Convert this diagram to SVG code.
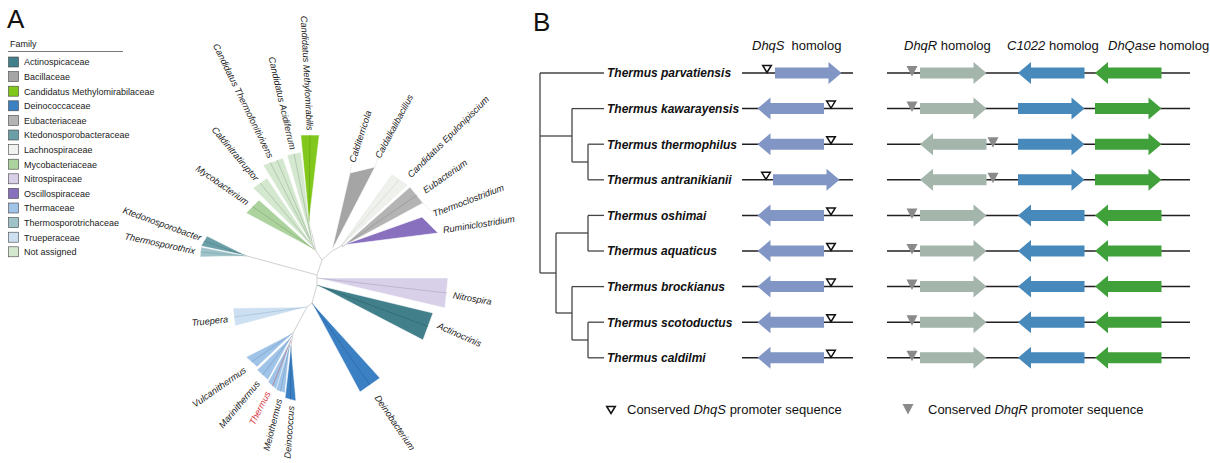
<svg xmlns="http://www.w3.org/2000/svg" xmlns:xlink="http://www.w3.org/1999/xlink" width="1210" height="463" viewBox="0 0 1210 463">
<style>
text{font-family:"Liberation Sans",Arial,sans-serif}
.pl{font-size:26px;fill:#111}
.lg{font-size:9px;fill:#222}
.sq{stroke:#444;stroke-width:0.6}
.lb{font-size:9.2px;font-style:italic;fill:#222}
.red{fill:#d7323a}
.sk{fill:none;stroke:#c4c4c4;stroke-width:0.8}
.w{stroke:#fff;stroke-width:0.6}
.cl{fill:none;stroke-width:0.5}
.ld{fill:none;stroke:#bbb;stroke-width:0.6;stroke-dasharray:1,1.5}
.sp{font-size:12px;font-weight:bold;font-style:italic;fill:#111}
.tr{fill:none;stroke:#444;stroke-width:1.3}
.gl{stroke:#231f20;stroke-width:1.5}
.hd{font-size:13px;fill:#111}
.s{fill:#8196c4}.r{fill:#a4b5ac}.c{fill:#4789bb}.q{fill:#40a03a}
.ht{fill:#fff;stroke:#111;stroke-width:1.5;stroke-linejoin:miter}
.gt{fill:#8a8a8a}
</style>
<defs>
<path id="ar" d="M0,-5.5 H53.5 V-11 L66.5,0 L53.5,11 V5.5 H0 Z"/>
<path id="al" d="M66.5,-5.5 H13 V-11 L0,0 L13,11 V5.5 H66.5 Z"/>
<path id="ht" d="M-4.3,-7.5 H4.3 L0,-0.5 Z"/>
<path id="gt" d="M-5.5,-7 H5.5 L0,3.5 Z"/>
</defs>
<rect width="1210" height="463" fill="#fff"/>

<!-- Panel A -->
<g id="panelA">
<text class="pl" x="7" y="28">A</text>
<g id="legend">
<text class="lg" x="10" y="47">Family</text>
<line x1="8" y1="51.5" x2="123" y2="51.5" stroke="#555" stroke-width="0.8"/>
<rect class="sq" x="8.5" y="57" width="10" height="10" fill="#417f8b"/><text class="lg" x="24" y="65.3">Actinospicaceae</text>
<rect class="sq" x="8.5" y="71.6" width="10" height="10" fill="#a5a5a5"/><text class="lg" x="24" y="79.9">Bacillaceae</text>
<rect class="sq" x="8.5" y="86.2" width="10" height="10" fill="#82c81c"/><text class="lg" x="24" y="94.5">Candidatus Methylomirabilaceae</text>
<rect class="sq" x="8.5" y="100.8" width="10" height="10" fill="#3c80c4"/><text class="lg" x="24" y="109.1">Deinococcaceae</text>
<rect class="sq" x="8.5" y="115.4" width="10" height="10" fill="#b4b4b4"/><text class="lg" x="24" y="123.7">Eubacteriaceae</text>
<rect class="sq" x="8.5" y="130" width="10" height="10" fill="#6b9fa8"/><text class="lg" x="24" y="138.3">Ktedonosporobacteraceae</text>
<rect class="sq" x="8.5" y="144.6" width="10" height="10" fill="#f1f3f0"/><text class="lg" x="24" y="152.9">Lachnospiraceae</text>
<rect class="sq" x="8.5" y="159.2" width="10" height="10" fill="#acd39d"/><text class="lg" x="24" y="167.5">Mycobacteriaceae</text>
<rect class="sq" x="8.5" y="173.8" width="10" height="10" fill="#d8d0e8"/><text class="lg" x="24" y="182.1">Nitrospiraceae</text>
<rect class="sq" x="8.5" y="188.4" width="10" height="10" fill="#8870bf"/><text class="lg" x="24" y="196.7">Oscillospiraceae</text>
<rect class="sq" x="8.5" y="203" width="10" height="10" fill="#9fc4e8"/><text class="lg" x="24" y="211.3">Thermaceae</text>
<rect class="sq" x="8.5" y="217.6" width="10" height="10" fill="#9fc3c8"/><text class="lg" x="24" y="225.9">Thermosporotrichaceae</text>
<rect class="sq" x="8.5" y="232.2" width="10" height="10" fill="#cde0f2"/><text class="lg" x="24" y="240.5">Trueperaceae</text>
<rect class="sq" x="8.5" y="246.8" width="10" height="10" fill="#d4e8d0"/><text class="lg" x="24" y="255.1">Not assigned</text>
</g>

<g id="tree-skeleton">
<polyline class="sk" points="316,251 322,260 332,251 343,245"/>
<polyline class="sk" points="322,260 317,275 317,285 312,303 307,307 293,333 291,346"/>
<line class="sk" x1="247" y1="256" x2="317" y2="275"/>
<line class="sk" x1="316" y1="251" x2="309" y2="222"/>
</g>

<g id="clade-mycobacterium">
<polygon class="w" points="315,250 246,213 259,200" fill="#acd39d"/>
<line class="cl" x1="315" y1="250" x2="252.5" y2="206.5" stroke="#7b9c6e"/>
<text class="lb" text-anchor="end" dy="0.35em" transform="translate(248,203) rotate(35)">Mycobacterium</text>
</g>
<g id="clade-caldinitratiruptor">
<polygon class="w" points="315,249 253,188 267,178" fill="#d4e8d0"/>
<line class="cl" x1="315" y1="249" x2="260" y2="183" stroke="#90a88a"/>
<text class="lb" text-anchor="end" dy="0.35em" transform="translate(257,179.5) rotate(50)">Caldinitratiruptor</text>
</g>
<g id="clade-thermofonitivivens">
<polygon class="w" points="314,248 263,165 283,158" fill="#d4e8d0"/>
<line class="cl" x1="314" y1="248" x2="270" y2="162" stroke="#90a88a"/>
<line class="cl" x1="314" y1="248" x2="277" y2="160" stroke="#90a88a"/>
<text class="lb" text-anchor="end" dy="0.35em" transform="translate(271,157.5) rotate(64)">Candidatus Thermofonitivivens</text>
</g>
<g id="clade-acidiferrum">
<polygon class="w" points="313,247 287,155 301,152" fill="#d4e8d0"/>
<line class="cl" x1="313" y1="247" x2="294" y2="153.5" stroke="#90a88a"/>
<text class="lb" text-anchor="end" dy="0.35em" transform="translate(293,149.5) rotate(77)">Candidatus Acidiferrum</text>
</g>
<g id="clade-methylomirabilis">
<polygon class="w" points="309,222 300.7,135 319.3,135" fill="#82c81c"/>
<line class="cl" x1="309" y1="222" x2="310" y2="135" stroke="#5a9612"/>
<text class="lb" text-anchor="end" dy="0.35em" transform="translate(310,130.5) rotate(87)">Candidatus Methylomirabilis</text>
</g>
<g id="clade-bacillaceae">
<polygon class="w" points="332,250 350,173 375,167" fill="#a5a5a5"/>
<line class="ld" x1="350" y1="173" x2="352" y2="164"/>
<line class="ld" x1="375" y1="167" x2="377" y2="160"/>
<text class="lb" dy="0.35em" transform="translate(352,162) rotate(-72)">Calditerricola</text>
<text class="lb" dy="0.35em" transform="translate(377.5,157.5) rotate(-62)">Caldalkalibacillus</text>
</g>
<g id="clade-epulonipiscium">
<polygon points="340,247 392,175 407,185" fill="#eef1ec" stroke="#e2e6e0" stroke-width="0.6"/>
<line class="cl" x1="340" y1="247" x2="399" y2="180" stroke="#c8ccc6"/>
<text class="lb" dy="0.35em" transform="translate(409,176) rotate(-45)">Candidatus Epulonipiscium</text>
</g>
<g id="clade-eubacteriaceae">
<polygon class="w" points="342,247 410,187 423,203" fill="#b4b4b4"/>
<line class="cl" x1="342" y1="247" x2="417" y2="195" stroke="#888"/>
<line class="ld" x1="423" y1="203" x2="432" y2="212"/>
<text class="lb" dy="0.35em" transform="translate(424,191) rotate(-35)">Eubacterium</text>
<text class="lb" dy="0.35em" transform="translate(433,214) rotate(-21)">Thermoclostridium</text>
</g>
<g id="clade-ruminiclostridium">
<polygon class="w" points="343,245 422,217 438,233" fill="#8870bf"/>
<text class="lb" dy="0.35em" transform="translate(443,230) rotate(-9)">Ruminiclostridium</text>
</g>
<g id="clade-nitrospira">
<polygon class="w" points="317,278 448,278 445,308" fill="#d8d0e8"/>
<line class="cl" x1="317" y1="278" x2="447" y2="293" stroke="#a49bbb"/>
<text class="lb" dy="0.35em" transform="translate(453,295) rotate(10)">Nitrospira</text>
</g>
<g id="clade-actinocrinis">
<polygon class="w" points="317,285 433,313 423,340" fill="#417f8b"/>
<line class="cl" x1="317" y1="285" x2="428" y2="326.5" stroke="#2a5a62"/>
<text class="lb" dy="0.35em" transform="translate(438,325) rotate(24)">Actinocrinis</text>
</g>
<g id="clade-deinobacterium">
<polygon class="w" points="312,303 380,378 360,392" fill="#3c80c4"/>
<line class="cl" x1="312" y1="303" x2="370" y2="385" stroke="#245a90"/>
<text class="lb" dy="0.35em" transform="translate(377,396) rotate(56)">Deinobacterium</text>
</g>
<g id="clade-truepera">
<polygon class="w" points="307,307 233,308 235,326" fill="#cde0f2"/>
<line class="cl" x1="307" y1="307" x2="234" y2="317" stroke="#8eb0cf"/>
<text class="lb" text-anchor="end" dy="0.35em" transform="translate(228,319) rotate(-6)">Truepera</text>
</g>
<g id="clade-ktedonosporobacter">
<polygon class="w" points="247,256 207,236 201,246" fill="#6b9fa8"/>
<line class="cl" x1="247" y1="256" x2="204" y2="241" stroke="#4a7880"/>
<text class="lb" text-anchor="end" dy="0.35em" transform="translate(201,238) rotate(20)">Ktedonosporobacter</text>
</g>
<g id="clade-thermosporothrix">
<polygon class="w" points="247,256 201,247 200,257" fill="#9fc3c8"/>
<line class="cl" x1="247" y1="256" x2="200.5" y2="252" stroke="#76a0a6"/>
<text class="lb" text-anchor="end" dy="0.35em" transform="translate(195,251) rotate(12)">Thermosporothrix</text>
</g>
<g id="clade-vulcanithermus">
<polygon class="w" points="293,333 246,357 257,367" fill="#9fc4e8"/>
<line class="cl" x1="293" y1="333" x2="251.5" y2="362" stroke="#6d95bd"/>
<text class="lb" text-anchor="end" dy="0.35em" transform="translate(245,369) rotate(-35)">Vulcanithermus</text>
</g>
<g id="clade-marinithermus">
<polygon class="w" points="292,336 257,370 268,380" fill="#9fc4e8"/>
<line class="cl" x1="292" y1="336" x2="262.5" y2="375" stroke="#6d95bd"/>
<text class="lb" text-anchor="end" dy="0.35em" transform="translate(258,382) rotate(-50)">Marinithermus</text>
</g>
<g id="clade-thermus">
<polygon class="w" points="291,340 268,382 277,390" fill="#9fc4e8"/>
<line class="cl" x1="291" y1="340" x2="272.5" y2="386" stroke="#c05060"/>
<text class="lb red" text-anchor="end" dy="0.35em" transform="translate(268,392) rotate(-63)">Thermus</text>
</g>
<g id="clade-meiothermus">
<polygon class="w" points="290,343 276,390 285,393" fill="#9fc4e8"/>
<line class="cl" x1="290" y1="343" x2="280.5" y2="391.5" stroke="#6d95bd"/>
<text class="lb" text-anchor="end" dy="0.35em" transform="translate(279,399) rotate(-76)">Meiothermus</text>
</g>
<g id="clade-deinococcus">
<polygon class="w" points="291,346 285,398 296,401" fill="#3c80c4"/>
<line class="cl" x1="291" y1="346" x2="290.5" y2="399.5" stroke="#245a90"/>
<text class="lb" text-anchor="end" dy="0.35em" transform="translate(291,406) rotate(-86)">Deinococcus</text>
</g>
</g>

<!-- Panel B -->
<g id="panelB">
<text class="pl" x="533" y="31">B</text>
<g id="headers">
<text class="hd" x="752" y="50"><tspan font-style="italic">DhqS</tspan><tspan dx="7">homolog</tspan></text>
<text class="hd" x="904" y="50"><tspan font-style="italic">DhqR</tspan> homolog</text>
<text class="hd" x="1007" y="50"><tspan font-style="italic">C1022</tspan> homolog</text>
<text class="hd" x="1108" y="50"><tspan font-style="italic">DhQase</tspan> homolog</text>
</g>
<g id="connectors">
<g class="tr">
<line x1="540" y1="73" x2="540" y2="273"/>
<line x1="540" y1="73" x2="604" y2="73"/>
<line x1="540" y1="136" x2="572" y2="136"/>
<line x1="572" y1="108.6" x2="572" y2="162"/>
<line x1="572" y1="108.6" x2="604" y2="108.6"/>
<line x1="572" y1="162" x2="588" y2="162"/>
<line x1="588" y1="144.2" x2="588" y2="179.8"/>
<line x1="588" y1="144.2" x2="604" y2="144.2"/>
<line x1="588" y1="179.8" x2="604" y2="179.8"/>
<line x1="540" y1="273" x2="556" y2="273"/>
<line x1="556" y1="233" x2="556" y2="313"/>
<line x1="556" y1="233" x2="588" y2="233"/>
<line x1="588" y1="215.4" x2="588" y2="251"/>
<line x1="588" y1="215.4" x2="604" y2="215.4"/>
<line x1="588" y1="251" x2="604" y2="251"/>
<line x1="556" y1="313" x2="572" y2="313"/>
<line x1="572" y1="286.6" x2="572" y2="340"/>
<line x1="572" y1="286.6" x2="604" y2="286.6"/>
<line x1="572" y1="340" x2="588" y2="340"/>
<line x1="588" y1="322.2" x2="588" y2="357.8"/>
<line x1="588" y1="322.2" x2="604" y2="322.2"/>
<line x1="588" y1="357.8" x2="604" y2="357.8"/>
</g>
</g>

<g id="row1" transform="translate(0,73)">
<text class="sp" x="607" y="4.3">Thermus parvatiensis</text>
<line class="gl" x1="742" y1="0" x2="853" y2="0"/><line class="gl" x1="887" y1="0" x2="1190" y2="0"/>
<use href="#ar" x="775" class="s"/><use href="#ht" x="767" class="ht"/>
<use href="#ar" x="920" class="r"/><use href="#gt" x="912" class="gt"/>
<use href="#al" x="1018" class="c"/><use href="#al" x="1095" class="q"/>
</g>
<g id="row2" transform="translate(0,108.6)">
<text class="sp" x="607" y="4.3">Thermus kawarayensis</text>
<line class="gl" x1="742" y1="0" x2="853" y2="0"/><line class="gl" x1="887" y1="0" x2="1190" y2="0"/>
<use href="#al" x="757.5" class="s"/><use href="#ht" x="831" class="ht"/>
<use href="#ar" x="920" class="r"/><use href="#gt" x="912" class="gt"/>
<use href="#ar" x="1018" class="c"/><use href="#ar" x="1095" class="q"/>
</g>
<g id="row3" transform="translate(0,144.2)">
<text class="sp red" x="607" y="4.3">Thermus thermophilus</text>
<line class="gl" x1="742" y1="0" x2="853" y2="0"/><line class="gl" x1="887" y1="0" x2="1190" y2="0"/>
<use href="#al" x="757.5" class="s"/><use href="#ht" x="831" class="ht"/>
<use href="#al" x="920" class="r"/><use href="#gt" x="993" class="gt"/>
<use href="#ar" x="1018" class="c"/><use href="#ar" x="1095" class="q"/>
</g>
<g id="row4" transform="translate(0,179.8)">
<text class="sp" x="607" y="4.3">Thermus antranikianii</text>
<line class="gl" x1="742" y1="0" x2="853" y2="0"/><line class="gl" x1="887" y1="0" x2="1190" y2="0"/>
<use href="#ar" x="773" class="s"/><use href="#ht" x="766" class="ht"/>
<use href="#al" x="920" class="r"/><use href="#gt" x="993" class="gt"/>
<use href="#ar" x="1018" class="c"/><use href="#ar" x="1095" class="q"/>
</g>
<g id="row5" transform="translate(0,215.4)">
<text class="sp" x="607" y="4.3">Thermus oshimai</text>
<line class="gl" x1="742" y1="0" x2="853" y2="0"/><line class="gl" x1="887" y1="0" x2="1190" y2="0"/>
<use href="#al" x="757.5" class="s"/><use href="#ht" x="831" class="ht"/>
<use href="#ar" x="920" class="r"/><use href="#gt" x="912" class="gt"/>
<use href="#al" x="1018" class="c"/><use href="#al" x="1095" class="q"/>
</g>
<g id="row6" transform="translate(0,251)">
<text class="sp" x="607" y="4.3">Thermus aquaticus</text>
<line class="gl" x1="742" y1="0" x2="853" y2="0"/><line class="gl" x1="887" y1="0" x2="1190" y2="0"/>
<use href="#al" x="757.5" class="s"/><use href="#ht" x="831" class="ht"/>
<use href="#ar" x="920" class="r"/><use href="#gt" x="912" class="gt"/>
<use href="#al" x="1018" class="c"/><use href="#al" x="1095" class="q"/>
</g>
<g id="row7" transform="translate(0,286.6)">
<text class="sp" x="607" y="4.3">Thermus brockianus</text>
<line class="gl" x1="742" y1="0" x2="853" y2="0"/><line class="gl" x1="887" y1="0" x2="1190" y2="0"/>
<use href="#al" x="757.5" class="s"/><use href="#ht" x="831" class="ht"/>
<use href="#ar" x="920" class="r"/><use href="#gt" x="912" class="gt"/>
<use href="#al" x="1018" class="c"/><use href="#al" x="1095" class="q"/>
</g>
<g id="row8" transform="translate(0,322.2)">
<text class="sp" x="607" y="4.3">Thermus scotoductus</text>
<line class="gl" x1="742" y1="0" x2="853" y2="0"/><line class="gl" x1="887" y1="0" x2="1190" y2="0"/>
<use href="#al" x="757.5" class="s"/><use href="#ht" x="831" class="ht"/>
<use href="#ar" x="920" class="r"/><use href="#gt" x="912" class="gt"/>
<use href="#al" x="1018" class="c"/><use href="#al" x="1095" class="q"/>
</g>
<g id="row9" transform="translate(0,357.8)">
<text class="sp" x="607" y="4.3">Thermus caldilmi</text>
<line class="gl" x1="742" y1="0" x2="853" y2="0"/><line class="gl" x1="887" y1="0" x2="1190" y2="0"/>
<use href="#al" x="757.5" class="s"/><use href="#ht" x="831" class="ht"/>
<use href="#ar" x="920" class="r"/><use href="#gt" x="912" class="gt"/>
<use href="#al" x="1018" class="c"/><use href="#al" x="1095" class="q"/>
</g>

<g id="legendB">
<use href="#ht" x="611" y="414" class="ht"/>
<text class="hd" x="627" y="414">Conserved <tspan font-style="italic">DhqS</tspan> promoter sequence</text>
<use href="#gt" x="908" y="411" class="gt"/>
<text class="hd" x="928" y="414">Conserved <tspan font-style="italic">DhqR</tspan> promoter sequence</text>
</g>
</g>
</svg>
